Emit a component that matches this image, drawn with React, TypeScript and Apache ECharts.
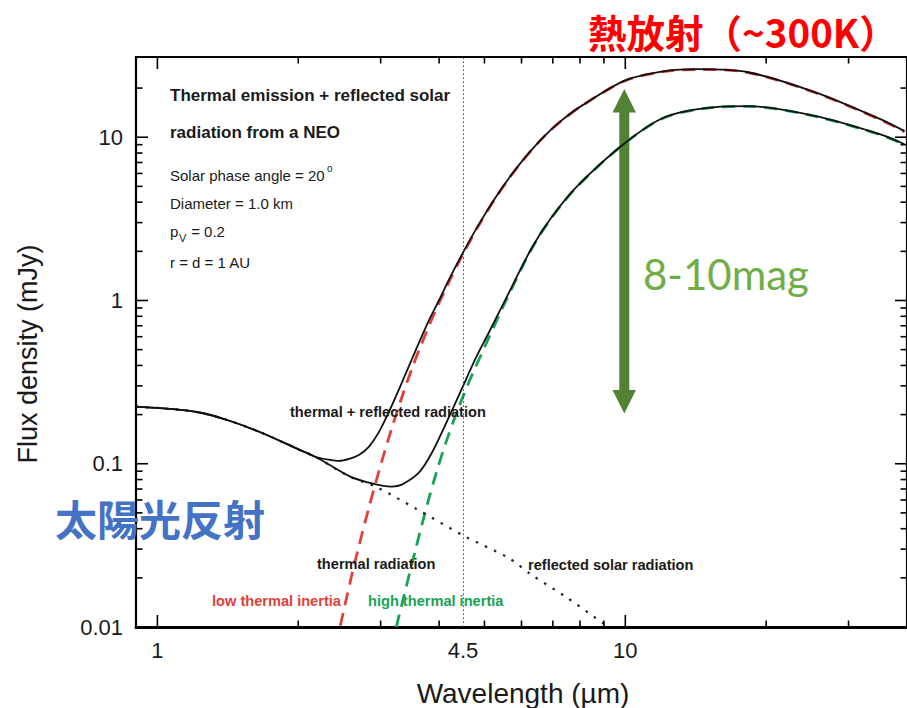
import React, { useEffect, useRef } from 'react';
import * as echarts from 'echarts';

// ---- axis ranges ----
const X_MIN = 0.9;
const X_MAX = 40;
const Y_MIN = 0.01;
const Y_MAX = 31;

// ---- tick values / labels ----
const xMajorTicks = [1, 10];
const xMinorTicks = [2, 3, 4, 5, 6, 7, 8, 9, 20, 30];
const xLabelValues = [1, 4.5, 10];
const xLabelTexts = ['1', '4.5', '10'];
const yMajorTicks = [0.01, 0.1, 1, 10];
const yMinorTicks = [
  0.02, 0.03, 0.04, 0.05, 0.06, 0.07, 0.08, 0.09,
  0.2, 0.3, 0.4, 0.5, 0.6, 0.7, 0.8, 0.9,
  2, 3, 4, 5, 6, 7, 8, 9, 20,
];
const yLabelValues = [0.01, 0.1, 1, 10];
const yLabelTexts = ['0.01', '0.1', '1', '10'];
const markWavelength = 4.5;

// ---- reflected solar radiation (dotted) ----
const reflWl = [0.9, 1.06, 1.23, 1.42, 1.65, 2.01, 2.18, 2.57, 2.93, 3.57, 4.55, 5.63, 6.3, 7.46, 9.06];
const reflFlux = [0.224, 0.217, 0.206, 0.184, 0.157, 0.122, 0.11, 0.0836, 0.0723, 0.053, 0.0358, 0.0265, 0.0209, 0.0153, 0.0103];

// ---- thermal radiation, low thermal inertia (red dashed) ----
const lowTiWl = [2.46, 2.63, 2.83, 3.02, 3.17, 3.33, 3.5, 3.67, 3.94, 4.2, 4.51, 4.86, 5.28, 5.71, 6.21, 6.75, 7.3, 8.06, 10.0, 12.17, 14.31, 18.29, 25.4, 35.1, 39.5];
const lowTiFlux = [0.0102, 0.0236, 0.0536, 0.1046, 0.166, 0.2555, 0.383, 0.544, 0.881, 1.3, 1.95, 2.88, 4.24, 5.86, 7.94, 10.3, 12.6, 15.55, 22.2, 25.3, 26.0, 24.9, 18.8, 12.8, 10.8];

// ---- thermal radiation, high thermal inertia (green dashed) ----
const highTiWl = [3.24, 3.57, 3.8, 3.94, 4.13, 4.34, 4.63, 5.03, 5.55, 6.3, 6.95, 7.94, 10.0, 12.17, 15.56, 18.29, 25.4, 35.1, 39.5];
const highTiFlux = [0.01, 0.0306, 0.0607, 0.0871, 0.1333, 0.198, 0.3155, 0.536, 0.99, 2.06, 3.2, 5.08, 9.22, 13.25, 15.25, 15.45, 13.45, 10.35, 9.02];

// ---- thermal + reflected, low thermal inertia (upper solid) ----
const totLowWl = [0.9, 1.06, 1.23, 1.42, 1.65, 2.01, 2.18, 2.33, 2.44, 2.57, 2.7, 2.83, 2.97, 3.12, 3.33, 3.57, 3.8, 4.03, 4.2, 4.51, 4.86, 5.28, 5.71, 6.21, 6.75, 7.3, 8.06, 10.0, 12.17, 14.31, 18.29, 25.4, 35.1, 39.5];
const totLowFlux = [0.224, 0.217, 0.206, 0.184, 0.157, 0.122, 0.11, 0.1058, 0.104, 0.107, 0.1135, 0.127, 0.155, 0.206, 0.314, 0.5, 0.75, 1.05, 1.346, 1.99, 2.915, 4.27, 5.885, 7.96, 10.31, 12.64, 15.56, 22.3, 25.4, 26.1, 25.0, 18.9, 12.9, 10.9];

// ---- thermal + reflected, high thermal inertia (lower solid) ----
const totHighWl = [0.9, 1.06, 1.23, 1.42, 1.65, 2.01, 2.18, 2.57, 2.8, 3.02, 3.17, 3.33, 3.62, 3.86, 4.2, 4.47, 4.79, 5.1, 5.55, 6.3, 6.95, 7.94, 10.0, 12.17, 15.56, 18.29, 25.4, 35.1, 39.5];
const totHighFlux = [0.224, 0.217, 0.206, 0.184, 0.157, 0.122, 0.11, 0.084, 0.0772, 0.0735, 0.0725, 0.0745, 0.0881, 0.1167, 0.1935, 0.2866, 0.4429, 0.63, 1.02, 2.08, 3.22, 5.1, 9.25, 13.3, 15.3, 15.5, 13.5, 10.4, 9.06];

const zip = (a: number[], b: number[]) => a.map((v, i) => [v, b[i]]);

const ARIAL = '"Liberation Sans", Arial, sans-serif';
const CJK = '"Noto Sans CJK JP", "Noto Sans CJK SC", sans-serif';

function tickSeries(values: number[], axis: 'x' | 'y', len: number) {
  return {
    type: 'custom',
    silent: true,
    z: 6,
    clip: false,
    data: values.map((v) => (axis === 'x' ? [v, Y_MAX] : [X_MAX, v])),
    renderItem: (_p: any, api: any) => {
      const st = { stroke: '#000', lineWidth: 1.6 };
      if (axis === 'x') {
        const v = api.value(0);
        const b = api.coord([v, Y_MIN]);
        const t = api.coord([v, Y_MAX]);
        return {
          type: 'group',
          children: [
            { type: 'line', shape: { x1: b[0], y1: b[1], x2: b[0], y2: b[1] - len }, style: st },
            { type: 'line', shape: { x1: t[0], y1: t[1], x2: t[0], y2: t[1] + len }, style: st },
          ],
        };
      }
      const v = api.value(1);
      const l = api.coord([X_MIN, v]);
      const r = api.coord([X_MAX, v]);
      return {
        type: 'group',
        children: [
          { type: 'line', shape: { x1: l[0], y1: l[1], x2: l[0] + len, y2: l[1] }, style: st },
          { type: 'line', shape: { x1: r[0], y1: r[1], x2: r[0] - len, y2: r[1] }, style: st },
        ],
      };
    },
  };
}

function labelSeries(values: number[], texts: string[], axis: 'x' | 'y') {
  return {
    type: 'custom',
    silent: true,
    z: 6,
    clip: false,
    data: values.map((v) => (axis === 'x' ? [v, Y_MIN] : [X_MIN, v])),
    renderItem: (p: any, api: any) => {
      const c = axis === 'x' ? api.coord([api.value(0), Y_MIN]) : api.coord([X_MIN, api.value(1)]);
      return {
        type: 'text',
        style: {
          text: texts[p.dataIndex],
          x: axis === 'x' ? c[0] : c[0] - 13,
          y: axis === 'x' ? c[1] + 23 : c[1],
          textAlign: axis === 'x' ? 'center' : 'right',
          textVerticalAlign: 'middle',
          font: `22px ${ARIAL}`,
          fill: '#1a1a1a',
        },
      };
    },
  };
}

function txt(x: number, y: number, text: string, font: string, fill = '#1a1a1a', align = 'left', rotation = 0) {
  return {
    type: 'text',
    x,
    y,
    rotation,
    silent: true,
    z: 20,
    style: { text, font, fill, textAlign: align, textVerticalAlign: 'middle' },
  };
}

export default function App() {
  const ref = useRef<HTMLDivElement>(null);

  useEffect(() => {
    if (!ref.current) return;
    const chart = echarts.init(ref.current, undefined, { renderer: 'svg' });

    const boldSmall = `bold 14.6px ${ARIAL}`;
    const option: any = {
      animation: false,
      backgroundColor: '#ffffff',
      grid: {
        left: 136,
        right: -2,
        top: 57,
        bottom: 81,
        show: true,
        borderColor: '#000',
        borderWidth: 2.2,
        backgroundColor: 'transparent',
      },
      xAxis: {
        type: 'log',
        logBase: 10,
        min: X_MIN,
        max: X_MAX,
        axisLine: { show: true, onZero: false, lineStyle: { color: '#000', width: 3 } },
        axisTick: { show: false },
        axisLabel: { show: false },
        splitLine: { show: false },
      },
      yAxis: {
        type: 'log',
        logBase: 10,
        min: Y_MIN,
        max: Y_MAX,
        axisLine: { show: false },
        axisTick: { show: false },
        axisLabel: { show: false },
        splitLine: { show: false },
      },
      series: [
        {
          name: 'low thermal inertia',
          type: 'line',
          data: zip(lowTiWl, lowTiFlux),
          showSymbol: false,
          symbol: 'none',
          smooth: 0.3,
          z: 2,
          lineStyle: { color: '#E2403A', width: 2.8, type: [13, 8] },
          markLine: {
            silent: true,
            symbol: ['none', 'none'],
            label: { show: false },
            lineStyle: { color: '#444', width: 1, type: [1.5, 2.5] },
            data: [{ xAxis: markWavelength }],
          },
        },
        {
          name: 'high thermal inertia',
          type: 'line',
          data: zip(highTiWl, highTiFlux),
          showSymbol: false,
          symbol: 'none',
          smooth: 0.3,
          z: 2,
          lineStyle: { color: '#17A354', width: 2.8, type: [13, 8] },
        },
        {
          name: 'reflected solar radiation',
          type: 'line',
          data: zip(reflWl, reflFlux),
          showSymbol: false,
          symbol: 'none',
          smooth: 0.3,
          z: 3,
          lineStyle: { color: '#222', width: 2.2, type: [2.5, 7.5] },
        },
        {
          name: 'total low',
          type: 'line',
          data: zip(totLowWl, totLowFlux),
          showSymbol: false,
          symbol: 'none',
          smooth: 0.3,
          z: 4,
          lineStyle: { color: '#111', width: 1.8 },
        },
        {
          name: 'total high',
          type: 'line',
          data: zip(totHighWl, totHighFlux),
          showSymbol: false,
          symbol: 'none',
          smooth: 0.3,
          z: 4,
          lineStyle: { color: '#111', width: 1.8 },
        },
        tickSeries(xMajorTicks, 'x', 12),
        tickSeries(xMinorTicks, 'x', 6.5),
        tickSeries(yMajorTicks, 'y', 12),
        tickSeries(yMinorTicks, 'y', 6.5),
        labelSeries(xLabelValues, xLabelTexts, 'x'),
        labelSeries(yLabelValues, yLabelTexts, 'y'),
      ],
      graphic: [
        txt(588, 31, '熱放射（~300K）', `bold 38.5px ${CJK}`, '#FF0000'),
        txt(55, 517, '太陽光反射', `bold 42px ${CJK}`, '#4472C4'),
        txt(643, 274, '8-10mag', `42px Lato, "Open Sans", sans-serif`, '#70AD47'),
        txt(523, 693, 'Wavelength (\u00b5m)', `28px ${ARIAL}`, '#1a1a1a', 'center'),
        txt(28, 354, 'Flux density (mJy)', `27px ${ARIAL}`, '#1a1a1a', 'center', Math.PI / 2),
        txt(170, 95, 'Thermal emission + reflected solar', `bold 17px ${ARIAL}`),
        txt(170, 132, 'radiation from a NEO', `bold 17px ${ARIAL}`),
        txt(170, 175, 'Solar phase angle = 20', `15px ${ARIAL}`),
        txt(327, 168, 'o', `10px ${ARIAL}`),
        txt(170, 203, 'Diameter = 1.0 km', `15px ${ARIAL}`),
        txt(170, 231, 'p', `15px ${ARIAL}`),
        txt(179, 238, 'V', `11px ${ARIAL}`),
        txt(187, 231, ' = 0.2', `15px ${ARIAL}`),
        txt(170, 262, 'r = d = 1 AU', `15px ${ARIAL}`),
        txt(290, 412, 'thermal + reflected radiation', boldSmall),
        txt(317, 564, 'thermal radiation', boldSmall),
        txt(528, 565, 'reflected solar radiation', boldSmall),
        txt(212, 601, 'low thermal inertia', boldSmall, '#E2403A'),
        txt(368, 601, 'high thermal inertia', boldSmall, '#17A354'),
        {
          type: 'group',
          silent: true,
          z: 20,
          children: [
            { type: 'rect', shape: { x: 619.3, y: 110, width: 10, height: 282 }, style: { fill: '#548235' } },
            { type: 'polygon', shape: { points: [[612.5, 112.5], [636, 112.5], [624.3, 89]] }, style: { fill: '#548235' } },
            { type: 'polygon', shape: { points: [[612.5, 390], [636, 390], [624.3, 413.5]] }, style: { fill: '#548235' } },
          ],
        },
      ],
    };

    chart.setOption(option);
    return () => chart.dispose();
  }, []);

  return (
    <div
      ref={ref}
      style={{ position: 'absolute', left: 0, top: 0, width: 907, height: 708, background: '#fff' }}
    />
  );
}
